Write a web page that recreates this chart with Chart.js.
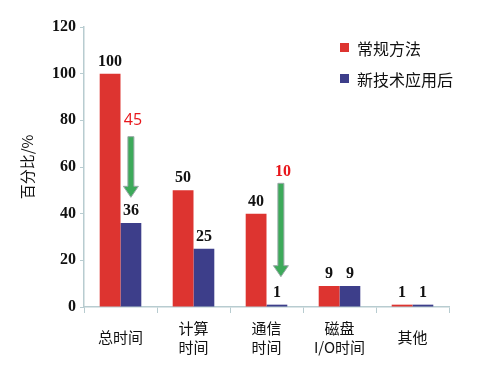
<!DOCTYPE html>
<html>
<head>
<meta charset="utf-8">
<script src="https://cdn.jsdelivr.net/npm/chart.js@4"></script>
<style>
  html, body { margin: 0; padding: 0; background: #fff; }
  #wrap { width: 492px; height: 368px; }
</style>
</head>
<body>
<div id="wrap"><canvas id="grafico"></canvas></div>
<script>
const categorias = [["总时间"], ["计算", "时间"], ["通信", "时间"], ["磁盘", "I/O时间"], ["其他"]];
const nomesSeries = ["常规方法", "新技术应用后"];
const convencional = [100, 50, 40, 9, 1];
const novaTecnica = [36, 25, 1, 9, 1];
const yTicks = [0, 20, 40, 60, 80, 100, 120];

// setas verdes: categoria, valor inicial, valor final, texto, altura do texto
const setaCategoria = [0, 2];
const setaDe = [73, 53];
const setaAte = [47, 13];
const setaTexto = ["45", "10"];
const setaTextoValor = [80, 58];

const VERMELHO = "#DD3430";
const AZUL = "#3D3E8A";
const VERDE = "#3DAA5A";
const fonteNum = "Liberation Serif";
const fonteCJK = "'Noto Sans CJK SC'";

const rotulosPlugin = {
  id: "rotulos",
  afterDatasetsDraw(chart) {
    const ctx = chart.ctx;
    ctx.save();
    ctx.fillStyle = "#111";
    ctx.font = "bold 16px " + fonteNum;
    ctx.textAlign = "center";
    ctx.textBaseline = "bottom";
    chart.data.datasets.forEach((ds, i) => {
      chart.getDatasetMeta(i).data.forEach((bar, j) => {
        ctx.fillText(String(ds.data[j]), bar.x, bar.y - 4);
      });
    });
    ctx.restore();
  }
};

const setasPlugin = {
  id: "setas",
  afterDatasetsDraw(chart) {
    const ctx = chart.ctx;
    const y = chart.scales.y;
    ctx.save();
    setaCategoria.forEach((c, k) => {
      const bar = chart.getDatasetMeta(1).data[c];
      const x = bar.x + (k === 1 ? 4 : 0);
      const y0 = y.getPixelForValue(setaDe[k]);
      const y1 = y.getPixelForValue(setaAte[k]);
      const hw = 3, headW = 7.5, headH = 11;
      ctx.beginPath();
      ctx.moveTo(x - hw, y0);
      ctx.lineTo(x + hw, y0);
      ctx.lineTo(x + hw, y1 - headH);
      ctx.lineTo(x + headW, y1 - headH);
      ctx.lineTo(x, y1);
      ctx.lineTo(x - headW, y1 - headH);
      ctx.lineTo(x - hw, y1 - headH);
      ctx.closePath();
      ctx.fillStyle = VERDE;
      ctx.fill();
      ctx.strokeStyle = "#9AA8A8";
      ctx.lineWidth = 1;
      ctx.stroke();

      ctx.fillStyle = "#E8161B";
      ctx.textAlign = "center";
      ctx.textBaseline = "middle";
      ctx.font = k === 0 ? "16px 'Open Sans'" : "bold 16px " + fonteNum;
      ctx.fillText(setaTexto[k], x + 2, y.getPixelForValue(setaTextoValor[k]));
    });
    ctx.restore();
  }
};

const legendaPlugin = {
  id: "legenda",
  afterDraw(chart) {
    const ctx = chart.ctx;
    ctx.save();
    ctx.font = "16px " + fonteCJK;
    ctx.textBaseline = "middle";
    ctx.textAlign = "left";
    chart.data.datasets.forEach((ds, i) => {
      const yc = 47.5 + i * 31;
      ctx.fillStyle = ds.backgroundColor;
      ctx.fillRect(340, yc - 4.5, 9, 9);
      ctx.fillStyle = "#111";
      ctx.fillText(ds.label, 357, yc + 1);
    });
    ctx.restore();
  }
};

new Chart(document.getElementById("grafico").getContext("2d"), {
  type: "bar",
  data: {
    labels: categorias,
    datasets: [
      { label: nomesSeries[0], data: convencional, backgroundColor: VERMELHO },
      { label: nomesSeries[1], data: novaTecnica, backgroundColor: AZUL }
    ]
  },
  options: {
    responsive: true,
    maintainAspectRatio: false,
    animation: false,
    devicePixelRatio: 1,
    layout: { padding: { top: 27, right: 43, left: 14, bottom: 0 } },
    datasets: { bar: { categoryPercentage: 0.57, barPercentage: 1 } },
    plugins: {
      legend: { display: false },
      tooltip: { enabled: false }
    },
    scales: {
      x: {
        afterFit: s => { s.height = 61; },
        grid: { display: true, drawOnChartArea: false, drawTicks: true, tickLength: 6, color: "#B8CCD0", offset: true },
        border: { color: "#B8CCD0", width: 1.5 },
        ticks: {
          color: "#111",
          font: { family: fonteCJK, size: 15, lineHeight: 1.3 },
          padding: 15,
          crossAlign: "center"
        }
      },
      y: {
        min: 0,
        max: 120,
        afterBuildTicks: s => { s.ticks = yTicks.map(v => ({ value: v })); },
        grid: { display: true, drawOnChartArea: false, drawTicks: true, tickLength: 4, color: "#B8CCD0" },
        border: { color: "#B8CCD0", width: 1.5 },
        ticks: { color: "#111", font: { family: fonteNum, size: 16, weight: "bold" }, padding: 4 },
        title: {
          display: true,
          text: "百分比/%",
          color: "#111",
          font: { family: fonteCJK, size: 15 },
          padding: { bottom: 12 }
        }
      }
    }
  },
  plugins: [rotulosPlugin, setasPlugin, legendaPlugin]
});
</script>
</body>
</html>
